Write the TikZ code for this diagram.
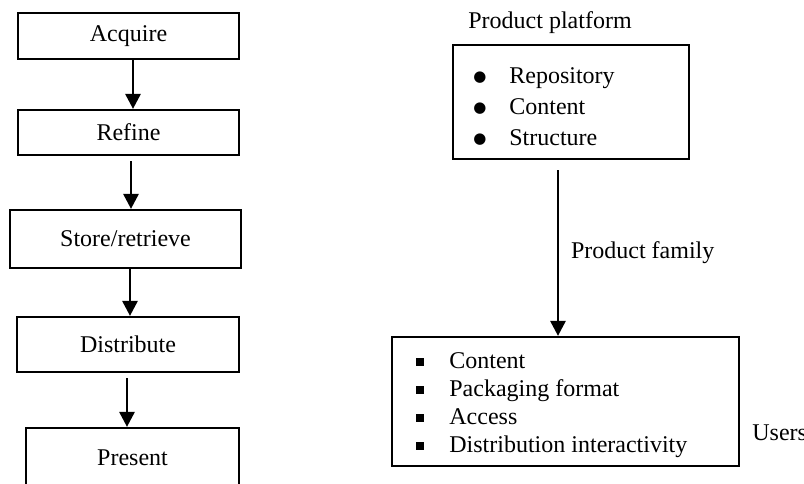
\documentclass[tikz,border=0pt]{standalone}
\usepackage{fontspec}
\setmainfont{Liberation Serif}
\newfontfamily\symfont{DejaVu Sans}
\usetikzlibrary{arrows.meta}

\newcommand{\pbul}{\makebox[18pt][l]{\raisebox{1.4pt}{\fontsize{7.5}{7.5}\symfont ●}}}
\newcommand{\sqbul}{\makebox[16.75pt][l]{\rule[1.2pt]{3.8pt}{3.8pt}}}

\begin{document}
\begin{tikzpicture}[x=0.5pt,y=-0.5pt,
    every node/.style={font=\fontsize{12}{14}\selectfont},
    stage/.style={draw,line width=1.1pt,minimum width=110.5pt,inner sep=0pt},
    flow/.style={line width=1.4pt,-{Triangle[width=7.5pt,length=7.5pt]}}]
      \useasboundingbox (0,0) rectangle (804,483);
      \clip (0,0) rectangle (804,483);

      % left chain
      \node (acquire) [stage,minimum height=23pt] at (128.5,36) {Acquire};
      \node (refine) [stage,minimum height=22.5pt] at (128.5,132.5) {Refine};
      \node (store) [stage,minimum width=115.5pt,minimum height=29pt] at (125.5,239) {Store/retrieve};
      \node (distribute) [stage,minimum width=111pt,minimum height=27.5pt] at (128,344.5) {Distribute};
      \node (present) [stage,minimum width=106.5pt,minimum height=30pt] at (132.5,458) {Present};

      \draw [flow] ([xshift=2.25pt]acquire.south) -- ([xshift=2.25pt]refine.north);
      \draw [flow] ([xshift=1.25pt,yshift=-2.5pt]refine.south) -- ([xshift=2.75pt]store.north);
      \draw [flow] ([xshift=2.25pt]store.south) -- ([xshift=1pt]distribute.north);
      \draw [flow] ([xshift=-0.5pt,yshift=-2.5pt]distribute.south) -- ([xshift=-2.75pt]present.north);

      % platform and family
      \node (ptitle) at (550,23) {Product platform};
      \node (platform) [stage,minimum width=118pt,minimum height=57pt] at (571,102) {};
      \node (pitems) [anchor=west,align=left,inner sep=0pt,
        font=\fontsize{12}{15.5}\selectfont] at (473,107)
        {\pbul Repository\\ \pbul Content\\ \pbul Structure};

      \node (users) [stage,minimum width=173.5pt,minimum height=64.5pt] at (565.5,401.5) {};
      \node (uitems) [anchor=west,align=left,inner sep=0pt] at (415.5,405)
        {\sqbul Content\\ \sqbul Packaging format\\ \sqbul Access\\ \sqbul Distribution interactivity};
      \node (ulabel) [anchor=west,inner sep=0pt] at (752,433) {Users};

      \draw [flow] ([xshift=-6.5pt,yshift=-5pt]platform.south) -- ([xshift=-3.75pt]users.north)
        node (family) [pos=0.5,anchor=west,xshift=2.5pt] {Product family};
\end{tikzpicture}
\end{document}
